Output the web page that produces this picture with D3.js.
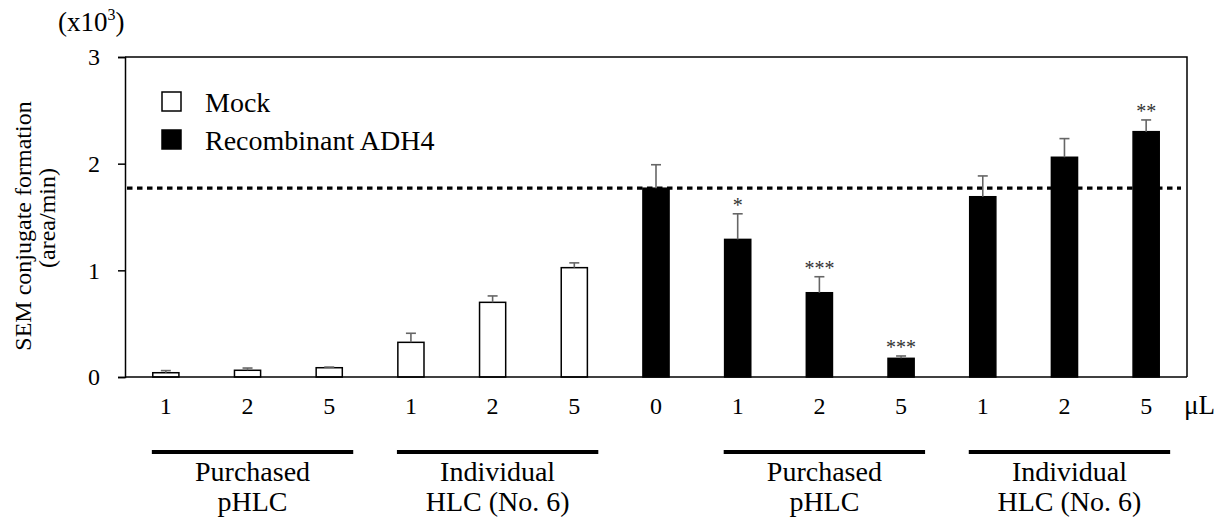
<!DOCTYPE html>
<html>
<head>
<meta charset="utf-8">
<script src="https://cdn.jsdelivr.net/npm/d3@7"></script>
<style>
  html, body { margin: 0; padding: 0; background: #fff; }
  svg { display: block; font-family: "Liberation Serif", "Times New Roman", serif; }
</style>
</head>
<body>
<svg id="chart" width="1231" height="522"></svg>
<script>
// ---- data ----
const doseLabels = ["1", "2", "5", "1", "2", "5", "0", "1", "2", "5", "1", "2", "5"];
const seriesOf   = ["Mock", "Mock", "Mock", "Mock", "Mock", "Mock",
                    "ADH4", "ADH4", "ADH4", "ADH4", "ADH4", "ADH4", "ADH4"];
const mockMean = [0.04, 0.063, 0.087, 0.325, 0.70, 1.025];
const mockErr  = [0.02, 0.021, 0.006, 0.085, 0.06, 0.045];
const adhMean  = [1.77, 1.29, 0.79, 0.175, 1.69, 2.06, 2.30];
const adhErr   = [0.22, 0.24, 0.15, 0.022, 0.195, 0.175, 0.11];
const signif   = ["", "*", "***", "***", "", "", "**"];
const yTicks   = [0, 1, 2, 3];
const groupLabels = [["Purchased", "pHLC"], ["Individual", "HLC (No. 6)"],
                     ["Purchased", "pHLC"], ["Individual", "HLC (No. 6)"]];
const groupFrom = [0, 3, 7, 10];
const groupTo   = [2, 5, 9, 12];
const legendNames = ["Mock", "Recombinant ADH4"];
const referenceLevel = adhMean[0];

(function () {
// ---- build rows ----
const means = mockMean.concat(adhMean);
const errs  = mockErr.concat(adhErr);
const stars = mockMean.map(() => "").concat(signif);
const rows = doseLabels.map((d, i) => ({i, dose: d, series: seriesOf[i], mean: means[i], err: errs[i], star: stars[i]}));

// ---- layout ----
const pL = 125, pR = 1187, pT = 57, pB = 377;
const svg = d3.select("#chart");
const font = '"Liberation Serif", "Times New Roman", serif';

const x = d3.scaleBand().domain(d3.range(rows.length)).range([pL, pR])
  .paddingInner(0.68).paddingOuter(0.34);
const y = d3.scaleLinear().domain([0, 3]).range([pB, pT]);
const cx = i => x(i) + x.bandwidth() / 2;

// frame (top & right)
svg.append("path")
  .attr("d", `M${pL},${pT}H${pR}V${pB}`)
  .attr("fill", "none").attr("stroke", "#000").attr("stroke-width", 1.5);

// y axis
const yAxis = svg.append("g").attr("transform", `translate(${pL},0)`)
  .call(d3.axisLeft(y).tickValues(yTicks).tickFormat(d3.format("d")).tickSizeOuter(0).tickSize(7).tickPadding(18));
yAxis.select(".domain").attr("stroke-width", 1.5);
yAxis.selectAll(".tick line").attr("stroke-width", 1.5);
yAxis.selectAll(".tick text").attr("font-size", 24).attr("fill", "#000");

// reference dotted line
svg.append("line")
  .attr("x1", pL + 2).attr("x2", pR - 6)
  .attr("y1", y(referenceLevel)).attr("y2", y(referenceLevel))
  .attr("stroke", "#000").attr("stroke-width", 3.2).attr("stroke-dasharray", "5.5,4.5");

// bars
svg.append("g").selectAll("rect").data(rows).join("rect")
  .attr("x", d => x(d.i)).attr("width", x.bandwidth())
  .attr("y", d => y(d.mean)).attr("height", d => y(0) - y(d.mean))
  .attr("fill", d => d.series === "Mock" ? "#fff" : "#000")
  .attr("stroke", "#000").attr("stroke-width", 1.5);

// error bars
const eb = svg.append("g").attr("stroke", "#666").attr("stroke-width", 1.6);
eb.selectAll("line.v").data(rows).join("line").attr("class", "v")
  .attr("x1", d => cx(d.i)).attr("x2", d => cx(d.i))
  .attr("y1", d => y(d.mean)).attr("y2", d => y(d.mean + d.err));
eb.selectAll("line.c").data(rows).join("line").attr("class", "c")
  .attr("x1", d => cx(d.i) - 5).attr("x2", d => cx(d.i) + 5)
  .attr("y1", d => y(d.mean + d.err)).attr("y2", d => y(d.mean + d.err));

// x axis line (bottom)
svg.append("line").attr("x1", pL).attr("x2", pR)
  .attr("y1", pB).attr("y2", pB).attr("stroke", "#000").attr("stroke-width", 1.5);

// significance stars
svg.append("g").selectAll("text").data(rows.filter(d => d.star)).join("text")
  .attr("x", d => cx(d.i)).attr("y", d => y(d.mean + d.err) - 2)
  .attr("text-anchor", "middle").attr("font-size", 20).attr("fill", "#333")
  .text(d => d.star);

// dose labels
svg.append("g").selectAll("text").data(rows).join("text")
  .attr("x", d => cx(d.i)).attr("y", 414)
  .attr("text-anchor", "middle").attr("font-size", 24).attr("fill", "#000")
  .text(d => d.dose);
svg.append("text").attr("x", 1184).attr("y", 414).attr("font-size", 27).text("μL");

// group lines and labels
groupLabels.forEach((lab, g) => {
  const x1 = cx(groupFrom[g]) - 14, x2 = cx(groupTo[g]) + 24;
  svg.append("line").attr("x1", x1).attr("x2", x2).attr("y1", 452).attr("y2", 452)
    .attr("stroke", "#000").attr("stroke-width", 4);
  const t = svg.append("text").attr("text-anchor", "middle").attr("font-size", 28);
  lab.forEach((s, k) => t.append("tspan").attr("x", (x1 + x2) / 2).attr("y", 481 + k * 30).text(s));
});

// legend
legendNames.forEach((name, k) => {
  const yy = 92 + k * 38;
  svg.append("rect").attr("x", 162).attr("y", yy).attr("width", 19).attr("height", 19)
    .attr("fill", k === 0 ? "#fff" : "#000").attr("stroke", "#000").attr("stroke-width", 1.5);
  svg.append("text").attr("x", 205).attr("y", yy + 20).attr("font-size", 28).text(name);
});

// y axis titles
svg.append("text").attr("transform", "translate(31,226) rotate(-90)")
  .attr("text-anchor", "middle").attr("font-size", 24).text("SEM conjugate formation");
svg.append("text").attr("transform", "translate(55,218) rotate(-90)")
  .attr("text-anchor", "middle").attr("font-size", 24).text("(area/min)");

// multiplier
const mult = svg.append("text").attr("x", 58).attr("y", 31).attr("font-size", 27);
mult.append("tspan").text("(x10");
mult.append("tspan").attr("font-size", 16).attr("dy", -11).text("3");
mult.append("tspan").attr("dy", 11).text(")");

svg.selectAll("text").attr("font-family", font);
})();
</script>
</body>
</html>
